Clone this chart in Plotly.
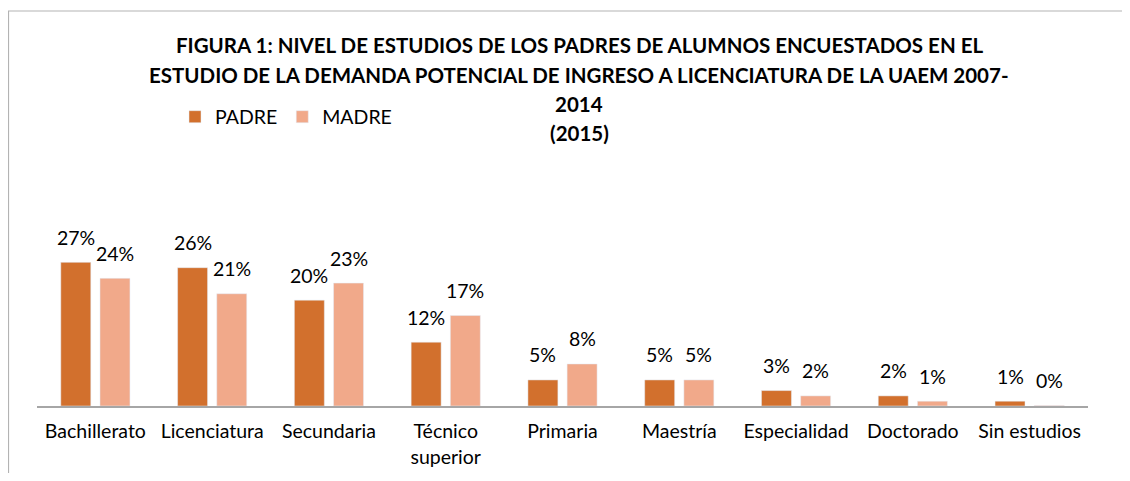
import plotly.graph_objects as go

categories = ["Bachillerato", "Licenciatura", "Secundaria", "Técnico<br>superior", "Primaria",
              "Maestría", "Especialidad", "Doctorado", "Sin estudios"]
padre = [27.0, 26.0, 19.9, 12.0, 4.9, 4.9, 2.9, 1.9, 0.9]
madre = [24.0, 21.1, 23.1, 17.0, 7.9, 4.9, 1.9, 0.9, 0.1]
padre_labels = ["27%", "26%", "20%", "12%", "5%", "5%", "3%", "2%", "1%"]
madre_labels = ["24%", "21%", "23%", "17%", "8%", "5%", "2%", "1%", "0%"]
title_lines = [
    "FIGURA 1: NIVEL DE ESTUDIOS DE LOS PADRES DE ALUMNOS ENCUESTADOS EN EL",
    "ESTUDIO DE LA DEMANDA POTENCIAL DE INGRESO A LICENCIATURA DE LA UAEM 2007-",
    "2014",
    "(2015)",
]

# page body has an 8px margin; figure coords = page coords - 8
OFF = 8
W, H = 1130 - 2 * OFF, 481 - 2 * OFF
ML, MR, MT, MB = 37 - OFF, W - (1088 - OFF), 140 - OFF, H - (406 - OFF)
PW, PH = W - ML - MR, H - MT - MB

def px_x(px):
    return (px - OFF - ML) / PW

def px_y(py):
    return (H - MB - (py - OFF)) / PH

FONT = "Lato"
FS = 19.5
C_PADRE = "#D2702D"
C_MADRE = "#F1A98A"

fig = go.Figure()
fig.add_trace(go.Bar(x=categories, y=padre, name="PADRE", marker_color=C_PADRE))
fig.add_trace(go.Bar(x=categories, y=madre, name="MADRE", marker_color=C_MADRE))

annotations = []
for cat, v, t in zip(categories, padre, padre_labels):
    annotations.append(dict(x=cat, y=v, xref="x", yref="y", text=t, showarrow=False,
                            xshift=-19.6, yshift=25, yanchor="middle",
                            font=dict(family=FONT, size=FS, color="#000")))
for cat, v, t in zip(categories, madre, madre_labels):
    annotations.append(dict(x=cat, y=v, xref="x", yref="y", text=t, showarrow=False,
                            xshift=19.6, yshift=25, yanchor="middle",
                            font=dict(family=FONT, size=FS, color="#000")))

title_y = [45, 75, 104, 133]
for line, py in zip(title_lines, title_y):
    annotations.append(dict(x=px_x(579), y=px_y(py), xref="paper", yref="paper", text="<b>%s</b>" % line,
                            showarrow=False, xanchor="center", yanchor="middle",
                            font=dict(family=FONT, size=20.5, color="#000")))

shapes = [
    dict(type="line", xref="paper", yref="paper", x0=px_x(8), x1=px_x(1130), y0=px_y(11), y1=px_y(11),
         line=dict(color="#B3B3B3", width=1.2)),
    dict(type="line", xref="paper", yref="paper", x0=px_x(8.5), x1=px_x(8.5), y0=px_y(11), y1=px_y(481),
         line=dict(color="#B3B3B3", width=1.2)),
]

fig.update_layout(
    width=W, height=H,
    margin=dict(l=ML, r=MR, t=MT, b=MB, autoexpand=False),
    paper_bgcolor="white", plot_bgcolor="white",
    barmode="group", bargap=0.329, bargroupgap=0.235,
    font=dict(family=FONT, size=FS, color="#000"),
    showlegend=True,
    legend=dict(orientation="h", x=px_x(175), y=px_y(117), xanchor="left", yanchor="middle",
                font=dict(family=FONT, size=FS, color="#000"), bgcolor="rgba(0,0,0,0)",
                itemwidth=30, traceorder="normal"),
    xaxis=dict(showline=True, linecolor="#A6A6A6", linewidth=1.5, ticks="", showgrid=False,
               automargin=False, tickfont=dict(family=FONT, size=FS, color="#000"),
               ticklabelstandoff=7),
    yaxis=dict(range=[0, 50], visible=False, showgrid=False, automargin=False),
    annotations=annotations,
    shapes=shapes,
)

fig.write_html("out.html")
